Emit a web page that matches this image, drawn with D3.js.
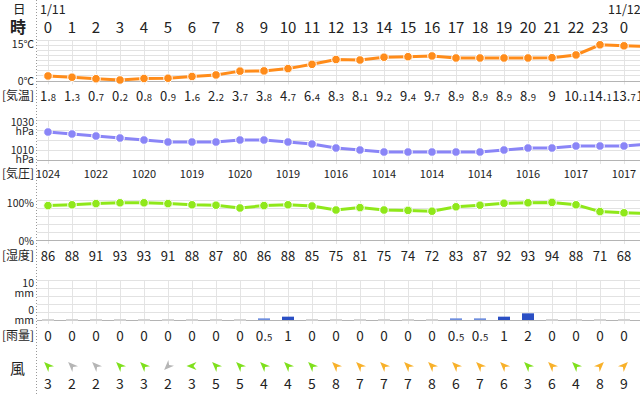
<!DOCTYPE html>
<html><head><meta charset="utf-8">
<script src="https://cdn.jsdelivr.net/npm/d3@7/dist/d3.min.js"></script>
<style>body{margin:0;background:#fff}svg{display:block}text{font-family:"Noto Sans CJK JP","Noto Sans",sans-serif;fill:#222}</style>
</head><body><svg id="c" width="640" height="395"></svg>
<script>
const hours = [0,1,2,3,4,5,6,7,8,9,10,11,12,13,14,15,16,17,18,19,20,21,22,23,0,1];
const temps = [1.8,1.3,0.7,0.2,0.8,0.9,1.6,2.2,3.7,3.8,4.7,6.4,8.3,8.1,9.2,9.4,9.7,8.9,8.9,8.9,8.9,9,10.1,14.1,13.7,13.5];
const pressure = [1024,1023,1022,1021,1020,1019,1019,1019,1020,1020,1019,1018,1016,1015,1014,1014,1014,1014,1014,1015,1016,1016,1017,1017,1017,1018];
const humidity = [86,88,91,93,93,91,88,87,80,86,88,85,75,81,75,74,72,83,87,92,93,94,88,71,68,66];
const rain = [0,0,0,0,0,0,0,0,0,0.5,1,0,0,0,0,0,0,0.5,0.5,1,2,0,0,0,0,0];
const windSpeed = [3,2,2,3,3,2,3,5,5,4,4,5,8,7,7,7,8,6,7,6,3,6,4,8,9,8];
const windDir = [315,315,315,315,315,225,270,315,315,315,315,315,315,315,315,315,315,315,315,315,315,315,315,45,45,45];
const dateLabels = [{i:0,t:"1/11",dx:-8},{i:24,t:"11/12",dx:-16}];
const tempTicks = [{v:15,t:"15℃"},{v:0,t:"0℃"}];
const presTicks = [{v:1030,t:"1030"},{v:1010,t:"1010"}];
const humTicks = [{v:100,t:"100%"},{v:0,t:"0%"}];
const rainTicks = [{v:10,t:"10"},{v:0,t:"0"}];

const svg = d3.select("#c");
const W = 640;
const idx = d3.range(hours.length);
const x = d3.scaleLinear().domain([0,25]).range([48,648]);

const yT = d3.scaleLinear().domain([0,16]).range([80.5,40]);
const yP = d3.scaleLinear().domain([1010,1030]).range([160,120]);
const yH = d3.scaleLinear().domain([0,100]).range([240,200]);
const yR = d3.scaleLinear().domain([0,12]).range([320,280]);

svg.append("rect").attr("width",640).attr("height",395).attr("fill","#fff");

// grids
function grid(y, values, baseV) {
  const g = svg.append("g");
  const r = y.range();
  const top = Math.min(...r), bot = Math.max(...r);
  g.selectAll("line.v").data(idx).join("line")
    .attr("x1",i=>Math.round(x(i))+0.5).attr("x2",i=>Math.round(x(i))+0.5)
    .attr("y1",top).attr("y2",bot+4).attr("stroke","#e4e4e4");
  g.selectAll("line.h").data(values).join("line")
    .attr("x1",37).attr("x2",W)
    .attr("y1",v=>Math.round(y(v))+0.5).attr("y2",v=>Math.round(y(v))+0.5)
    .attr("stroke","#e2e2e2");
  g.append("line").attr("x1",37).attr("x2",W)
    .attr("y1",Math.round(y(baseV))+0.5).attr("y2",Math.round(y(baseV))+0.5)
    .attr("stroke","#b4b4b4");
}
grid(yT, d3.range(2,17,2), 0);
grid(yP, d3.range(1015,1031,5), 1010);
grid(yH, d3.range(20,101,20), 0);
grid(yR, d3.range(2.4,12.1,2.4), 0);

// dotted separator
svg.append("line").attr("x1",36.5).attr("x2",36.5).attr("y1",0).attr("y2",395)
  .attr("stroke","#999").attr("stroke-dasharray","1,2");

// header
svg.append("text").attr("x",13).attr("y",14).attr("font-size",12.5).text("日");
svg.append("text").attr("x",10).attr("y",33).attr("font-size",16).attr("font-weight","bold").text("時");
svg.selectAll("text.date").data(dateLabels).join("text")
  .attr("x",d=>x(d.i)+d.dx).attr("y",14).attr("font-size",12.5).text(d=>d.t);
svg.selectAll("text.hour").data(idx).join("text")
  .attr("x",i=>x(i)).attr("y",33).attr("font-size",15).attr("text-anchor","middle").text(i=>hours[i]);

// left labels
function leftLabel(txt,y,size){svg.append("text").attr("x",34).attr("y",y).attr("font-size",size||10.5).attr("text-anchor","end").text(txt);}
tempTicks.forEach(d=>leftLabel(d.t, yT(d.v)+(d.v===0?4.5:5)));
presTicks.forEach(d=>{leftLabel(d.t, yP(d.v)+(d.v===1030?6:-6)); leftLabel("hPa", yP(d.v)+(d.v===1030?15:3));});
humTicks.forEach(d=>leftLabel(d.t, yH(d.v)+(d.v===100?7:4.5)));
rainTicks.forEach(d=>{leftLabel(d.t, yR(d.v)+(d.v===10?0.5:-6)); leftLabel("mm", yR(d.v)+(d.v===10?10:4));});
[["[気温]",100],["[気圧]",178],["[湿度]",260],["[雨量]",340]].forEach(d=>
  svg.append("text").attr("x",2).attr("y",d[1]).attr("font-size",12).text(d[0]));
svg.append("text").attr("x",10).attr("y",374).attr("font-size",15).text("風");

// series lines
function series(vals, y, color){
  const g = svg.append("g");
  g.append("path").datum(idx).attr("fill","none").attr("stroke",color).attr("stroke-width",3)
    .attr("d", d3.line().x(i=>x(i)).y(i=>y(vals[i])));
  g.selectAll("circle").data(idx).join("circle")
    .attr("cx",i=>x(i)).attr("cy",i=>y(vals[i])).attr("r",4.3)
    .attr("fill",color).attr("stroke","#fff").attr("stroke-width",1);
}
series(temps, yT, "#ff8c1a");
series(pressure, yP, "#8a85f7");
series(humidity, yH, "#8fe81a");

// temperature value labels
const tl = svg.selectAll("text.tv").data(idx).join("text")
  .attr("x",i=>x(i)).attr("y",101).attr("text-anchor","middle").attr("font-size",13);
tl.each(function(i){
  const v = temps[i], s = String(v);
  const t = d3.select(this);
  if (s.indexOf(".")<0) { t.text(s); return; }
  const [a,b] = s.split(".");
  t.append("tspan").text(a+".");
  t.append("tspan").attr("font-size",9.5).text(b);
});
// pressure labels (every other hour)
svg.selectAll("text.pv").data(idx.filter(i=>i%2===0)).join("text")
  .attr("x",i=>x(i)).attr("y",178).attr("text-anchor","middle").attr("font-size",11).text(i=>pressure[i]);
// humidity labels
svg.selectAll("text.hv").data(idx).join("text")
  .attr("x",i=>x(i)).attr("y",261).attr("text-anchor","middle").attr("font-size",13).text(i=>humidity[i]);

// rain bars
svg.selectAll("rect.rb").data(idx).join("rect")
  .attr("x",i=>x(i)-6).attr("width",12)
  .attr("y",i=>rain[i]>0 ? yR(rain[i]) : yR(0)-1)
  .attr("height",i=>rain[i]>0 ? yR(0)-yR(rain[i]) : 2)
  .attr("fill",i=>rain[i]===0 ? "#d2d2d2" : (rain[i]<1 ? "#6f8ede" : "#2b4fc4"));
const rl = svg.selectAll("text.rv").data(idx).join("text")
  .attr("x",i=>x(i)).attr("y",341).attr("text-anchor","middle").attr("font-size",13.5);
rl.each(function(i){
  const s = String(rain[i]); const t = d3.select(this);
  if (s.indexOf(".")<0) { t.text(s); return; }
  const [a,b] = s.split(".");
  t.append("tspan").text(a+".");
  t.append("tspan").attr("font-size",9.5).text(b);
});

// wind arrows
const windColor = s => s<=2 ? "#b5b5b5" : (s<=5 ? "#7fe01c" : "#f8b12a");
svg.selectAll("path.wa").data(idx).join("path")
  .attr("d","M0,-5.5L4,4.5L0,1.5L-4,4.5Z")
  .attr("transform",i=>`translate(${x(i)},366) rotate(${windDir[i]})`)
  .attr("fill",i=>windColor(windSpeed[i]));
svg.selectAll("text.wv").data(idx).join("text")
  .attr("x",i=>x(i)).attr("y",389).attr("text-anchor","middle").attr("font-size",14).text(i=>windSpeed[i]);
</script></body></html>
